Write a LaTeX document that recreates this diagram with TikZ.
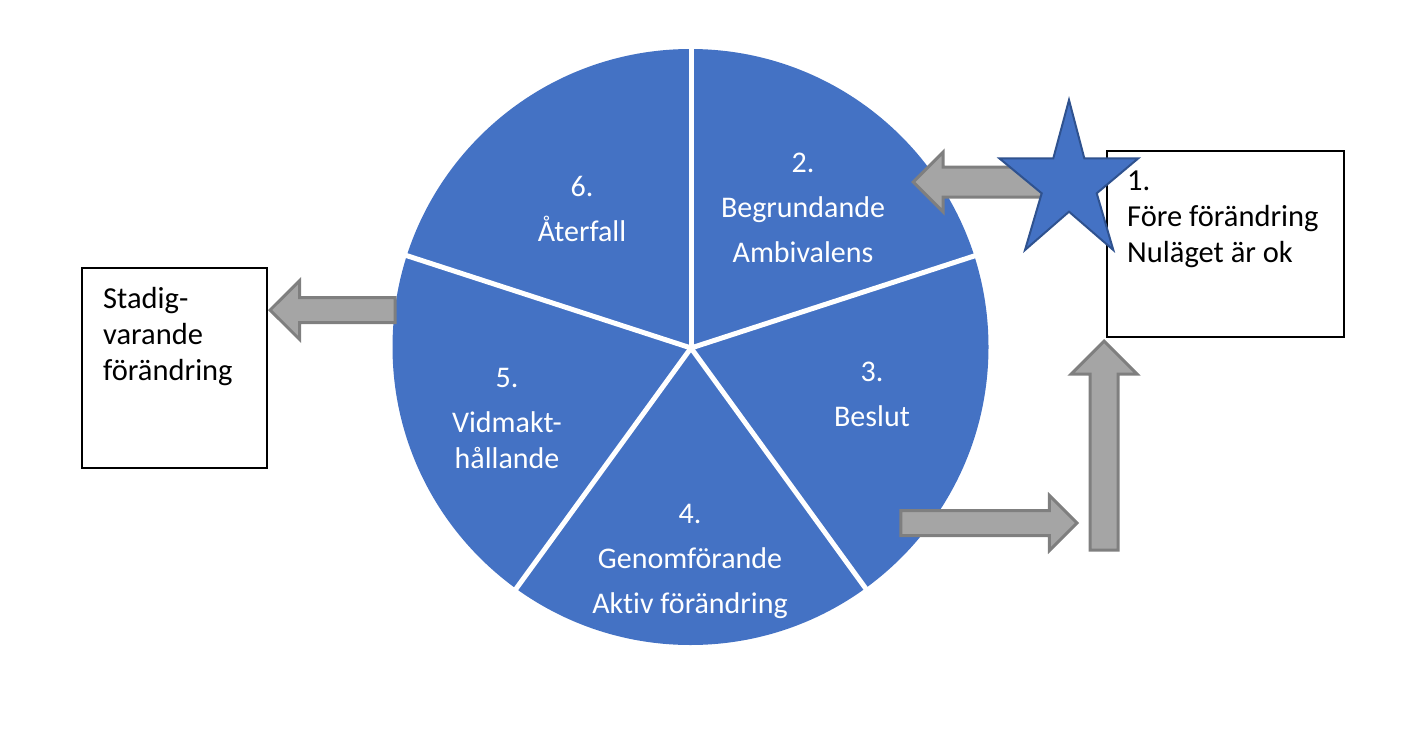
\documentclass[tikz,border=0pt]{standalone}
\usepackage{fontspec}
\setmainfont{Carlito}[Ligatures=CommonOff]
\usetikzlibrary{shapes.arrows}
\definecolor{pieblue}{HTML}{4472C4}
\definecolor{stardark}{HTML}{2F528F}
\definecolor{arrowfill}{HTML}{A5A5A5}
\definecolor{arrowline}{HTML}{7F7F7F}
\tikzset{
  pietext/.style={text=white, align=center, font=\fontsize{30}{36}\selectfont, inner sep=0pt},
  boxtext/.style={text=black, align=left, font=\fontsize{30.5}{36}\selectfont, inner sep=0pt},
  textbox/.style={draw=black, line width=1.3pt, fill=white},
  divider/.style={draw=white, line width=5pt},
  blockarrow/.style={single arrow, draw=arrowline, fill=arrowfill, line width=3pt,
    inner sep=0pt, single arrow tip angle=90, single arrow head indent=0pt, anchor=tip},
}
\begin{document}
\begin{tikzpicture}[x=1pt,y=-1pt]
\useasboundingbox (0,0) rectangle (1419,744);
% pie
\node[circle, fill=pieblue, minimum size=596pt, inner sep=0pt] (pie) at (690.5,347) {};
\coordinate (c) at (691,348);
\foreach \a in {90,18,-54,-126,162}{
  \draw[divider] (c) -- ++(\a:310pt);
}
% slice texts
\node[pietext] (s2) at (803,208) {2.\\[9pt]Begrundande\\[9pt]Ambivalens};
\node[pietext] (s6) at (582,209) {6.\\[9pt]Återfall};
\node[pietext] (s3) at (872,394) {3.\\[9pt]Beslut};
\node[pietext] (s5) at (507,418) {5.\\[9pt]Vidmakt-\\hållande};
\node[pietext] (s4) at (690,561) {4.\\[9pt]Genomförande\\[9pt]Aktiv förändring};
% boxes
\draw[textbox] (1107,151) rectangle (1344,337);
\node[boxtext, anchor=west] (t1) at (1127,219) {1.\\Före förändring\\Nuläget är ok};
\draw[textbox] (82,268) rectangle (267,468);
\node[boxtext, anchor=west] (t7) at (103,337) {Stadig-\\varande\\förändring};
% arrows
\node[blockarrow, minimum height=125pt, minimum width=56pt, inner ysep=11pt,
  single arrow head extend=17pt, shape border rotate=180] (a2) at (268,310) {};
\node[blockarrow, minimum height=176pt, minimum width=52pt, inner ysep=11pt,
  single arrow head extend=15pt] (a3) at (1079,523) {};
\node[blockarrow, minimum height=209pt, minimum width=63pt, inner xsep=12.5pt,
  single arrow head extend=19pt, shape border rotate=90] (a4) at (1104,339) {};
\node[blockarrow, minimum height=132pt, minimum width=56pt, inner ysep=13.5pt,
  single arrow head extend=15pt, shape border rotate=180] (a1) at (911,182) {};
% star
\draw[fill=pieblue, draw=stardark, line width=2pt, line join=miter]
  (1069,100) -- (1084.3,158.3) -- (1138.3,158.3) -- (1096.7,193.3) -- (1113.3,250)
  -- (1069,211.7) -- (1025,250) -- (1041.7,193.3) -- (999.3,158.3) -- (1053.3,158.3) -- cycle;
\end{tikzpicture}
\end{document}
